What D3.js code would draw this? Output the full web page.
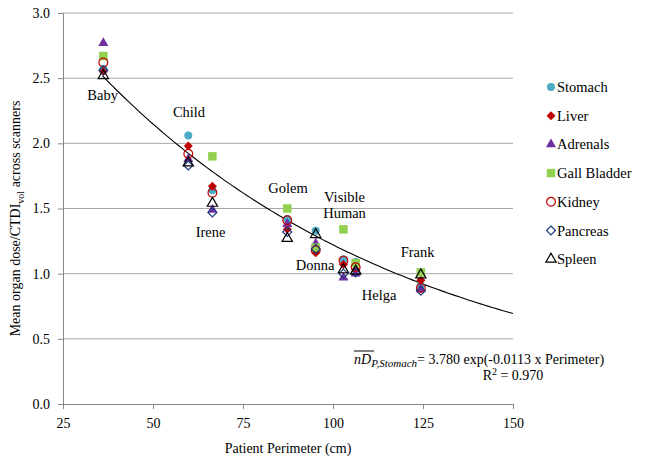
<!DOCTYPE html>
<html>
<head>
<meta charset="utf-8">
<script src="https://cdn.jsdelivr.net/npm/d3@7"></script>
<style>
  body { margin: 0; background: #fff; }
  svg text { font-family: "Liberation Serif", "Times New Roman", serif !important; fill: #000; }
</style>
</head>
<body>
<div id="chart"></div>
<script>
// phantoms (patient perimeter in cm)
const phantoms = ["Baby", "Child", "Irene", "Golem", "Donna", "Visible Human", "Helga", "Frank"];
const perimeter = [36.2, 59.8, 66.5, 87.3, 95.2, 102.9, 106.3, 124.4];

// mean organ dose / CTDIvol, one value per phantom (null = not shown)
const stomach     = [2.57, 2.06, 1.64, 1.42, 1.33, 1.11, 1.09, 0.91];
const liver       = [2.55, 1.98, 1.67, 1.34, 1.16, 1.07, 1.03, 0.95];
const adrenals    = [2.77, 1.88, 1.49, 1.38, 1.23, 0.97, 1.00, 0.88];
const gallBladder = [2.67, null, 1.90, 1.50, 1.20, 1.34, 1.08, 1.01];
const kidney      = [2.62, 1.92, 1.62, 1.41, 1.18, 1.10, 1.05, 0.89];
const pancreas    = [2.56, 1.83, 1.47, 1.32, 1.19, 1.00, 1.01, 0.87];
const spleen      = [2.52, 1.85, 1.54, 1.27, 1.30, 1.03, 1.02, 0.99];

// exponential fit shown in the chart
const fitA = 3.780, fitB = -0.0113, fitRange = [36, 150];

const xTicks = [25, 50, 75, 100, 125, 150];
const yTicks = [0, 0.5, 1.0, 1.5, 2.0, 2.5, 3.0];

// square diamond (a square turned 45 degrees)
const squareDiamond = {
  draw(ctx, size) {
    const r = Math.sqrt(size / 2);
    ctx.moveTo(0, -r); ctx.lineTo(r, 0); ctx.lineTo(0, r); ctx.lineTo(-r, 0); ctx.closePath();
  }
};

const series = [
  { name: "Stomach", values: stomach, shape: d3.symbolCircle, size: 50, fill: "#4bacc6", stroke: "none" },
  { name: "Liver", values: liver, shape: squareDiamond, size: 40, fill: "#c00000", stroke: "none" },
  { name: "Adrenals", values: adrenals, shape: d3.symbolTriangle, size: 44, fill: "#7030a0", stroke: "none" },
  { name: "Gall Bladder", values: gallBladder, shape: d3.symbolSquare, size: 72, fill: "#92d050", stroke: "none" },
  { name: "Kidney", values: kidney, shape: d3.symbolCircle, size: 60, fill: "none", stroke: "#c00000" },
  { name: "Pancreas", values: pancreas, shape: squareDiamond, size: 40, fill: "none", stroke: "#1f3a7a" },
  { name: "Spleen", values: spleen, shape: d3.symbolTriangle, size: 46, fill: "none", stroke: "#000" }
];

// label positions for each phantom (data units)
const labels = [
  { text: ["Baby"], x: 36, y: 2.33 },
  { text: ["Child"], x: 60, y: 2.20 },
  { text: ["Irene"], x: 66, y: 1.28 },
  { text: ["Golem"], x: 87.5, y: 1.62 },
  { text: ["Visible", "Human"], x: 103.2, y: 1.55 },
  { text: ["Donna"], x: 95, y: 1.03 },
  { text: ["Helga"], x: 112.8, y: 0.80 },
  { text: ["Frank"], x: 123.5, y: 1.13 }
];

const W = 649, H = 462;
const margin = { top: 13, right: 136, bottom: 58, left: 63 };
const width = W - margin.left - margin.right,
      height = H - margin.top - margin.bottom;

const svg = d3.select("#chart").append("svg")
  .attr("width", W).attr("height", H)
  .append("g")
  .attr("transform", `translate(${margin.left},${margin.top})`);

const x = d3.scaleLinear().domain([25, 150]).range([0, width]);
const y = d3.scaleLinear().domain([0, 3]).range([height, 0]);

// gridlines
svg.append("g").selectAll("line")
  .data(yTicks.filter(d => d > 0))
  .enter().append("line")
  .attr("x1", 0).attr("x2", width)
  .attr("y1", d => y(d)).attr("y2", d => y(d))
  .attr("stroke", "#a6a6a6").attr("stroke-width", 1);

// axes
const xAxis = svg.append("g")
  .attr("transform", `translate(0,${height})`)
  .call(d3.axisBottom(x).tickValues(xTicks).tickFormat(d3.format("d")).tickSizeOuter(0).tickSize(5));
const yAxis = svg.append("g")
  .call(d3.axisLeft(y).tickValues(yTicks).tickFormat(d3.format(".1f")).tickSizeOuter(0).tickSize(5));

[xAxis, yAxis].forEach(a => {
  a.selectAll("path, line").attr("stroke", "#868686");
  a.selectAll("text").style("font-size", "14px").attr("fill", "#000");
});
xAxis.selectAll("text").attr("dy", "1.15em");
yAxis.selectAll("text").attr("dx", "-0.35em");

// fitted curve
const fitPts = d3.range(fitRange[0], fitRange[1] + 0.5, 1).map(p => [p, fitA * Math.exp(fitB * p)]);
svg.append("path")
  .datum(fitPts)
  .attr("fill", "none")
  .attr("stroke", "#000")
  .attr("stroke-width", 1.1)
  .attr("d", d3.line().x(d => x(d[0])).y(d => y(d[1])));

// markers
series.forEach(s => {
  svg.append("g").selectAll("path")
    .data(s.values.map((v, i) => ({ p: perimeter[i], v: v })).filter(d => d.v != null))
    .enter().append("path")
    .attr("transform", d => `translate(${x(d.p)},${y(d.v)})`)
    .attr("d", d3.symbol().type(s.shape).size(s.size))
    .attr("fill", s.fill)
    .attr("stroke", s.stroke)
    .attr("stroke-width", s.stroke === "none" ? 0 : 1.2);
});

// phantom labels
labels.forEach(l => {
  const t = svg.append("text")
    .attr("x", x(l.x)).attr("y", y(l.y))
    .style("text-anchor", "middle")
    .style("font-size", "14.5px");
  t.selectAll("tspan").data(l.text).enter().append("tspan")
    .attr("x", x(l.x))
    .attr("dy", (d, i) => i === 0 ? 0 : 16)
    .text(d => d);
});

// axis titles
svg.append("text")
  .attr("x", width / 2).attr("y", height + 49)
  .style("text-anchor", "middle").style("font-size", "14px")
  .text("Patient Perimeter (cm)");

const yt = svg.append("text")
  .attr("transform", "rotate(-90)")
  .attr("x", -height / 2 - 10).attr("y", -43)
  .style("text-anchor", "middle").style("font-size", "14px");
yt.append("tspan").text("Mean organ dose/CTDI");
yt.append("tspan").attr("dy", 4).style("font-size", "10px").text("vol");
yt.append("tspan").attr("dy", -4).text(" across scanners");

// fit equation
const eqX = 291, eqY = 351;
const eq = svg.append("text").attr("x", eqX).attr("y", eqY).style("font-size", "14px");
eq.append("tspan").style("font-style", "italic").text("nD");
eq.append("tspan").attr("dy", 3).style("font-style", "italic").style("font-size", "11px").text("P,Stomach");
eq.append("tspan").attr("dy", -3).text("= 3.780 exp(-0.0113 x Perimeter)");
svg.append("line")
  .attr("x1", eqX).attr("x2", eqX + 20)
  .attr("y1", eqY - 13).attr("y2", eqY - 13)
  .attr("stroke", "#000").attr("stroke-width", 1);

const r2 = svg.append("text").attr("x", 450).attr("y", eqY + 16)
  .style("text-anchor", "middle").style("font-size", "14px");
r2.append("tspan").text("R");
r2.append("tspan").attr("dy", -5).style("font-size", "10px").text("2");
r2.append("tspan").attr("dy", 5).text(" = 0.970");

// legend
const legend = svg.append("g")
  .attr("transform", `translate(${width + 38}, 74)`);
series.forEach((s, i) => {
  const g = legend.append("g").attr("transform", `translate(0, ${i * 28.7})`);
  g.append("path")
    .attr("d", d3.symbol().type(s.shape).size(s.size))
    .attr("fill", s.fill)
    .attr("stroke", s.stroke)
    .attr("stroke-width", s.stroke === "none" ? 0 : 1.2);
  g.append("text")
    .attr("x", 6).attr("y", 5)
    .style("font-size", "14.5px")
    .text(s.name);
});
</script>
</body>
</html>
